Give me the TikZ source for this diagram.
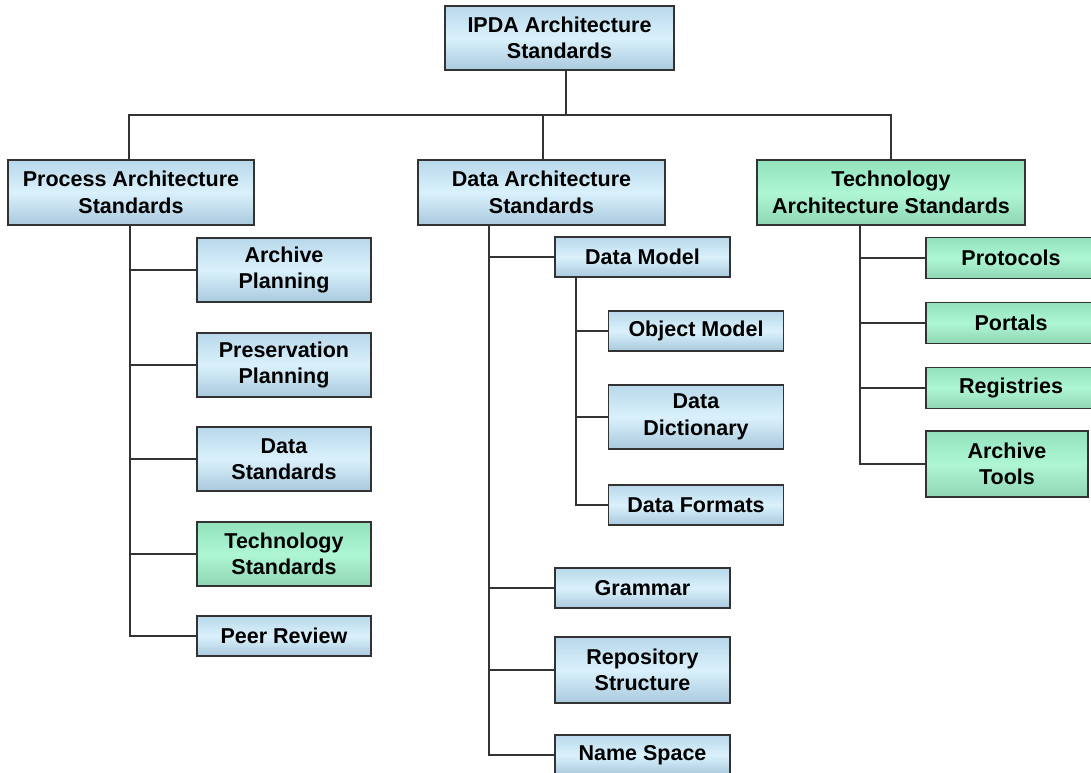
\documentclass[tikz,border=0pt]{standalone}
\usepackage{fontspec}
\setmainfont{Liberation Sans}
\definecolor{btop}{HTML}{B8D8EA}
\definecolor{bmid}{HTML}{DAF1FC}
\definecolor{bbot}{HTML}{A9C9DD}
\definecolor{gtop}{HTML}{92E2BC}
\definecolor{gmid}{HTML}{AEF6D4}
\definecolor{gbot}{HTML}{8FD6B4}
\definecolor{edge}{HTML}{333333}
\tikzset{
  box/.style={draw=edge, line width=1.4pt, rectangle, inner sep=0pt, align=center,
    font=\fontsize{21.5}{26.5}\selectfont\bfseries, text=black},
  bluebox/.style={box, top color=btop, bottom color=bbot, middle color=bmid},
  greenbox/.style={box, top color=gtop, bottom color=gbot, middle color=gmid},
  conn/.style={draw=edge, line width=1.3pt},
}
\begin{document}
\begin{tikzpicture}[x=1pt,y=-1pt]
\clip (0,0) rectangle (1091,772);
\fill[white] (0,0) rectangle (1091,772);
% top level
\node[bluebox, minimum width=229pt, minimum height=64pt] (ipda) at (559.5,38) {IPDA Architecture\\Standards};
\node[bluebox, minimum width=246pt, minimum height=65pt] (pas) at (131,192.5) {Process Architecture\\Standards};
\node[bluebox, minimum width=247pt, minimum height=65pt] (das) at (541.5,192.5) {Data Architecture\\Standards};
\node[greenbox, minimum width=268pt, minimum height=65pt] (tas) at (891,192.5) {Technology\\Architecture Standards};
% left column
\node[bluebox, minimum width=174pt, minimum height=64pt] (ap) at (284,270) {Archive\\Planning};
\node[bluebox, minimum width=174pt, minimum height=64pt] (pp) at (284,365) {Preservation\\Planning};
\node[bluebox, minimum width=174pt, minimum height=64pt] (ds) at (284,459) {Data\\Standards};
\node[greenbox, minimum width=174pt, minimum height=64pt] (ts) at (284,554) {Technology\\Standards};
\node[bluebox, minimum width=174pt, minimum height=40pt] (pr) at (284,636) {Peer Review};
% middle column
\node[bluebox, minimum width=175pt, minimum height=40pt] (dm) at (642.5,257) {Data Model};
\node[bluebox, minimum width=175pt, minimum height=40pt] (om) at (696,331) {Object Model};
\node[bluebox, minimum width=175pt, minimum height=64pt] (dd) at (696,417) {Data\\Dictionary};
\node[bluebox, minimum width=175pt, minimum height=40pt] (df) at (696,505) {Data Formats};
\node[bluebox, minimum width=175pt, minimum height=40pt] (gr) at (642.5,588) {Grammar};
\node[bluebox, minimum width=175pt, minimum height=66pt] (rs) at (642.5,670) {Repository\\Structure};
\node[bluebox, minimum width=175pt, minimum height=40pt] (ns) at (642.5,755) {Name Space};
% right column
\node[greenbox, minimum width=170pt, minimum height=41pt] (pt) at (1011,258) {Protocols};
\node[greenbox, minimum width=170pt, minimum height=41pt] (po) at (1011,323) {Portals};
\node[greenbox, minimum width=170pt, minimum height=41pt] (rg) at (1011,388) {Registries};
\node[greenbox, minimum width=162pt, minimum height=66pt] (at) at (1007,464) {Archive\\Tools};
% junction coordinates
\coordinate (h0) at (566,115);
\coordinate (hl) at (129,115);
\coordinate (hm) at (543,115);
\coordinate (hr) at (891,115);
\coordinate (lv) at (130,0);
\coordinate (mv) at (489,0);
\coordinate (sv) at (576,0);
\coordinate (rv) at (860,0);
% top connectors
\draw[conn] (ipda.south -| h0) -- (h0);
\draw[conn] (pas.north -| hl) -- (hl) -- (hr) -- (tas.north -| hr);
\draw[conn] (hm) -- (das.north -| hm);
% left
\draw[conn] (pas.south -| lv) |- (pr.west);
\draw[conn] (ap.west -| lv) -- (ap.west);
\draw[conn] (pp.west -| lv) -- (pp.west);
\draw[conn] (ds.west -| lv) -- (ds.west);
\draw[conn] (ts.west -| lv) -- (ts.west);
% middle
\draw[conn] (das.south -| mv) |- (ns.west);
\draw[conn] (dm.west -| mv) -- (dm.west);
\draw[conn] (gr.west -| mv) -- (gr.west);
\draw[conn] (rs.west -| mv) -- (rs.west);
\draw[conn] (dm.south -| sv) |- (df.west);
\draw[conn] (om.west -| sv) -- (om.west);
\draw[conn] (dd.west -| sv) -- (dd.west);
% right
\draw[conn] (tas.south -| rv) |- (at.west);
\draw[conn] (pt.west -| rv) -- (pt.west);
\draw[conn] (po.west -| rv) -- (po.west);
\draw[conn] (rg.west -| rv) -- (rg.west);
\end{tikzpicture}
\end{document}
